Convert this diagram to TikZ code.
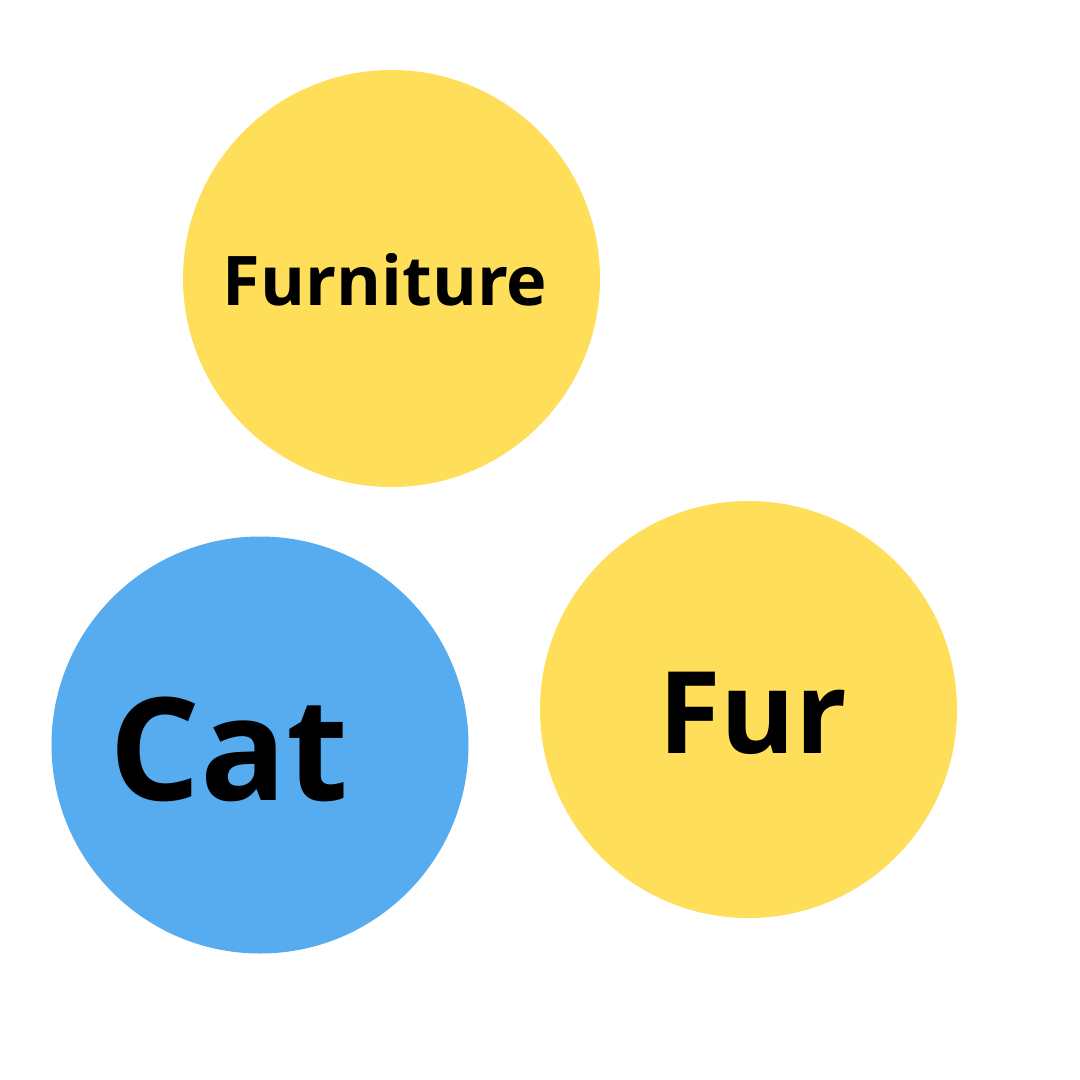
\documentclass[tikz,border=0pt]{standalone}
\usepackage{fontspec}
\setmainfont{Open Sans}
\definecolor{sunyellow}{HTML}{FFDE59}
\definecolor{skyblue}{HTML}{56ACEF}
\begin{document}
\begin{tikzpicture}[x=1pt,y=-1pt,
  bubble/.style={circle,inner sep=0pt,minimum size=417pt,draw=none},
  word/.style={anchor=base,inner sep=0pt,font=\bfseries}]
\useasboundingbox (0,0) rectangle (1080,1080);
\fill[white] (0,0) rectangle (1080,1080);
\node[bubble,fill=sunyellow] (furnc) at (391.5,278.5) {};
\node[bubble,fill=skyblue] (catc) at (260,745) {};
\node[bubble,fill=sunyellow] (furc) at (748.5,709.5) {};
\node[word,font=\bfseries\fontsize{68.5}{80}\selectfont] (furn) at (385,305) {Furniture};
\node[word,font=\bfseries\fontsize{143}{150}\selectfont] (cat) at (229,800) {Cat};
\node[word,font=\bfseries\fontsize{114}{120}\selectfont] (fur) at (753,753) {Fur};
\end{tikzpicture}
\end{document}
